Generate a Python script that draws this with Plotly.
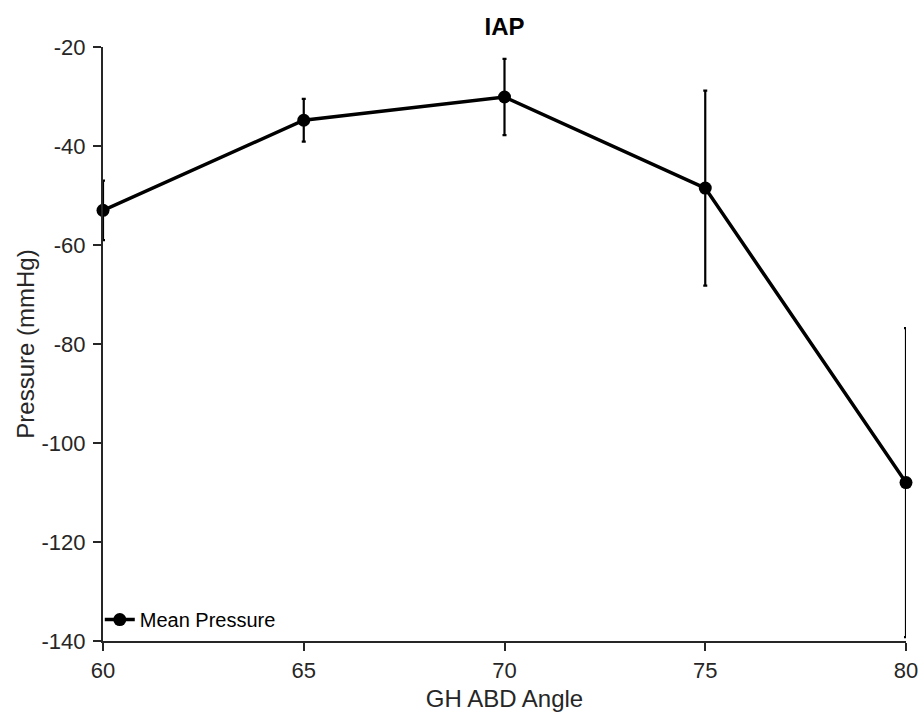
import plotly.graph_objects as go

angles = [60, 65, 70, 75, 80]
mean_pressure = [-53.0, -34.8, -30.1, -48.5, -108.0]
err_upper = [6.0, 4.3, 7.7, 19.7, 31.2]
err_lower = [6.0, 4.3, 7.7, 19.7, 31.2]

x_ticks = [60, 65, 70, 75, 80]
x_ticktext = ["60", "65", "70", "75", "80"]
y_ticks = [-140, -120, -100, -80, -60, -40, -20]
y_ticktext = ["-140", "-120", "-100", "-80", "-60", "-40", "-20"]

FONT = "Liberation Sans, Arial, Helvetica, sans-serif"
AX = "#262626"

fig = go.Figure()
fig.add_trace(go.Scatter(
    x=angles, y=mean_pressure, mode="lines+markers", name="Mean Pressure",
    line=dict(color="black", width=3.5),
    marker=dict(color="black", size=13),
    error_y=dict(type="data", symmetric=False, array=err_upper, arrayminus=err_lower,
                 color="black", thickness=2.2, width=2),
    cliponaxis=False,
))

fig.update_layout(
    width=921, height=712,
    margin=dict(l=102.5, r=15, t=47.3, b=71.3, autoexpand=False),
    paper_bgcolor="white", plot_bgcolor="white",
    font=dict(family=FONT, size=20, color=AX),
    title=dict(text="<b>IAP</b>", x=0.5, xanchor="center", xref="paper",
               y=0.962, yref="container", yanchor="middle",
               font=dict(family=FONT, size=24, color="black")),
    showlegend=True,
    legend=dict(x=-0.004, y=0.036, xanchor="left", yanchor="middle",
                bgcolor="rgba(0,0,0,0)", font=dict(family=FONT, size=20, color="black"),
                itemwidth=30, tracegroupgap=0),
    xaxis=dict(range=[60, 80], tickvals=x_ticks, ticktext=x_ticktext, automargin=False,
               showgrid=False, zeroline=False, showline=True, linecolor=AX, linewidth=2,
               ticks="outside", ticklen=8, tickwidth=2, tickcolor=AX, ticklabelstandoff=1,
               tickfont=dict(size=22, color=AX),
               title=dict(text="GH ABD Angle", font=dict(size=24, color=AX), standoff=20)),
    yaxis=dict(range=[-140, -20], tickvals=y_ticks, ticktext=y_ticktext, automargin=False,
               showgrid=False, zeroline=False, showline=True, linecolor=AX, linewidth=2,
               ticks="outside", ticklen=8, tickwidth=2, tickcolor=AX, ticklabelstandoff=3,
               tickfont=dict(size=22, color=AX),
               title=dict(text="Pressure (mmHg)", font=dict(size=24, color=AX), standoff=0)),
)

# remove the default 8px page margin so the figure fills the window exactly
fig.write_html(
    "out.html",
    config={"displayModeBar": False},
    post_script="document.body.style.margin='0';document.body.style.overflow='hidden';",
)
